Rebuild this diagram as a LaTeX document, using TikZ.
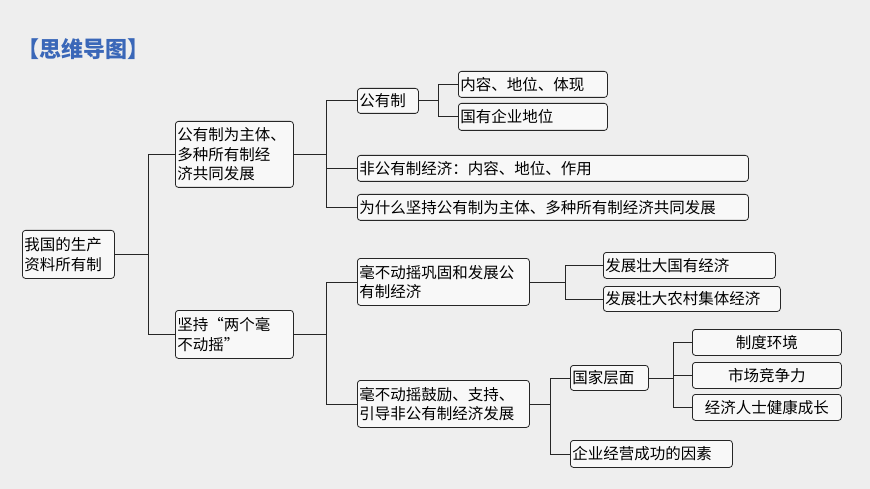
\documentclass[tikz,border=0pt]{standalone}
\usepackage{fontspec}
\usetikzlibrary{calc}
\newfontfamily\cjk{Noto Sans CJK SC}
\definecolor{bg}{HTML}{EEEEEE}
\definecolor{ttl}{HTML}{3A67B8}
\begin{document}
\begin{tikzpicture}[x=1pt,y=-1pt,font=\cjk\fontsize{15.5}{19.5}\selectfont,
  bx/.style={draw=black!85,line width=0.8pt,rounded corners=3pt,fill=white!60!bg,inner xsep=2pt,inner ysep=2pt,anchor=north west,align=left},
  ln/.style={draw=black!85,line width=0.8pt}]
\fill[bg] (0,0) rectangle (870,489);
\useasboundingbox (0,0) rectangle (870,489);
\node[anchor=west,text=ttl,font=\cjk\bfseries\fontsize{22}{25}\selectfont] (title) at (14,49) {【思维导图】};
\newcommand\bxn[6]{\node[bx,minimum width=#4-#2,minimum height=#5-#3,text width=#4-#2-4] (#1) at (#2,#3) {#6};}
\bxn{root}{22}{230}{114}{278}{我国的生产\\资料所有制}
\bxn{A}{175}{121}{293}{187}{公有制为主体、\\多种所有制经\\济共同发展}
\bxn{B}{175}{310}{293}{358}{坚持“两个毫\\不动摇”}
\bxn{gy}{357}{88}{418}{113}{公有制}
\bxn{nr}{458}{71}{607}{97}{内容、地位、体现}
\bxn{gq}{458}{103}{607}{130}{国有企业地位}
\bxn{fg}{357}{155}{748}{181}{非公有制经济：内容、地位、作用}
\bxn{ws}{357}{194}{748}{220}{为什么坚持公有制为主体、多种所有制经济共同发展}
\bxn{C}{357}{258}{529}{305}{毫不动摇巩固和发展公\\有制经济}
\bxn{c1}{603}{252}{775}{278}{发展壮大国有经济}
\bxn{c2}{603}{286}{780}{311}{发展壮大农村集体经济}
\bxn{D}{357}{380}{529}{427}{毫不动摇鼓励、支持、\\引导非公有制经济发展}
\bxn{gj}{570}{365}{648}{390}{国家层面}
\node[bx,align=center,minimum width=149,minimum height=26,text width=145] (z1) at (692,329) {制度环境};
\node[bx,align=center,minimum width=149,minimum height=26,text width=145] (z2) at (692,362) {市场竞争力};
\node[bx,align=center,minimum width=149,minimum height=26,text width=145] (z3) at (692,394) {经济人士健康成长};
\bxn{qy}{570}{440}{732}{467}{企业经营成功的因素}
\coordinate (j0) at ($(root.east)+(34,0)$);
\coordinate (j1) at ($(A.east)+(33,0)$);
\coordinate (j2) at ($(gy.east)+(20,0)$);
\coordinate (j3) at ($(B.east)+(33,0)$);
\coordinate (j4) at ($(C.east)+(36,0)$);
\coordinate (j5) at ($(D.east)+(21,0)$);
\coordinate (j6) at ($(gj.east)+(25,0)$);
\draw[ln] (root.east) -- (j0) |- (A.west);
\draw[ln] (j0) |- (B.west);
\draw[ln] (A.east) -- (j1) |- (gy.west);
\draw[ln] (j1) |- (fg.west);
\draw[ln] (j1) |- (ws.west);
\draw[ln] (gy.east) -- (j2) |- (nr.west);
\draw[ln] (j2) |- (gq.west);
\draw[ln] (B.east) -- (j3) |- (C.west);
\draw[ln] (j3) |- (D.west);
\draw[ln] (C.east) -- (j4) |- (c1.west);
\draw[ln] (j4) |- (c2.west);
\draw[ln] (D.east) -- (j5) |- (gj.west);
\draw[ln] (j5) |- (qy.west);
\draw[ln] (gj.east) -- (j6) |- (z1.west);
\draw[ln] (j6) |- (z2.west);
\draw[ln] (j6) |- (z3.west);
\end{tikzpicture}
\end{document}
